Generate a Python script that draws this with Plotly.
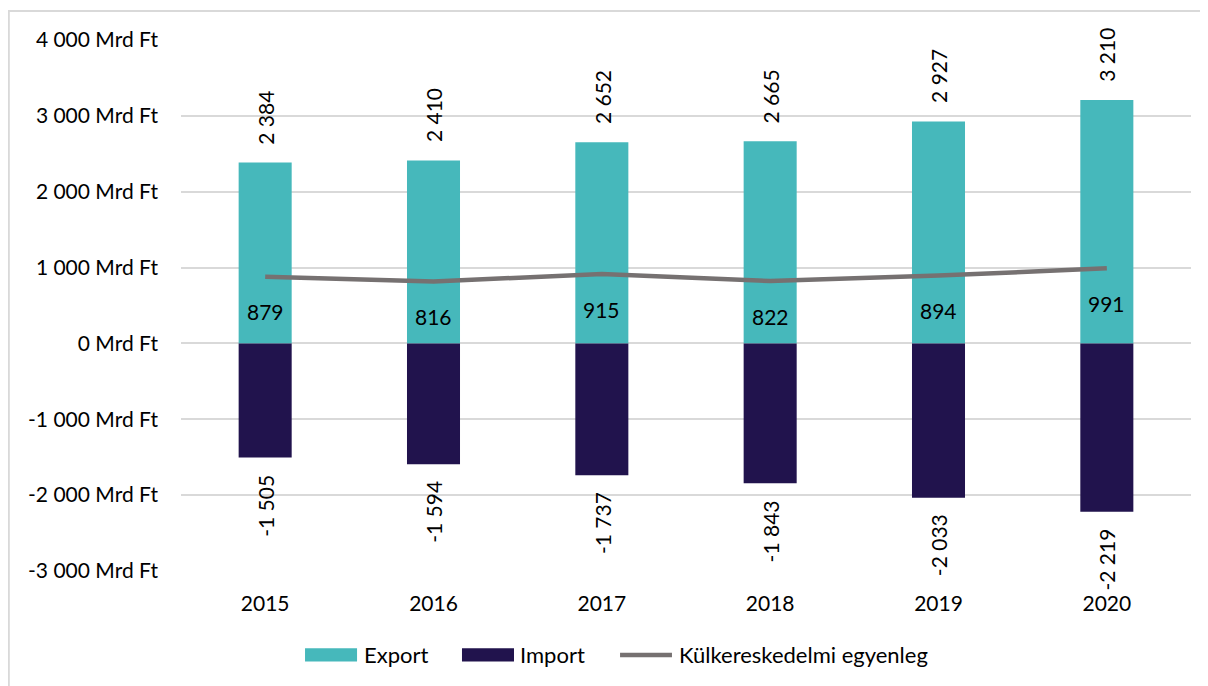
import plotly.graph_objects as go

years = ["2015", "2016", "2017", "2018", "2019", "2020"]
export_vals = [2384, 2410, 2652, 2665, 2927, 3210]
import_vals = [-1505, -1594, -1737, -1843, -2033, -2219]
balance_vals = [879, 816, 915, 822, 894, 991]
series_names = ["Export", "Import", "Külkereskedelmi egyenleg"]
tick_vals = [4000, 3000, 2000, 1000, 0, -1000, -2000, -3000]
tick_text = ["4 000 Mrd Ft", "3 000 Mrd Ft", "2 000 Mrd Ft", "1 000 Mrd Ft",
             "0 Mrd Ft", "-1 000 Mrd Ft", "-2 000 Mrd Ft", "-3 000 Mrd Ft"]

EXPORT_C = "#46B8BB"
IMPORT_C = "#21134D"
LINE_C = "#767171"
FONT = "Lato"
FS = 21


def fmt(v):
    return f"{v:,}".replace(",", " ")


fig = go.Figure()
fig.add_trace(go.Bar(x=years, y=export_vals, name=series_names[0], marker_color=EXPORT_C,
                     width=0.315, marker_line_width=0, showlegend=False))
fig.add_trace(go.Bar(x=years, y=import_vals, name=series_names[1], marker_color=IMPORT_C,
                     width=0.315, marker_line_width=0, showlegend=False))
fig.add_trace(go.Scatter(x=years, y=balance_vals, name=series_names[2],
                         mode="lines", line=dict(color=LINE_C, width=4.5), showlegend=False))

annotations = []
lab_font = dict(family=FONT, size=FS, color="black")
for i, v in enumerate(export_vals):
    annotations.append(dict(x=i, y=v, text=fmt(v), textangle=-90, showarrow=False,
                            yanchor="bottom", xanchor="center", yshift=16, font=lab_font))
for i, v in enumerate(import_vals):
    annotations.append(dict(x=i, y=v, text=fmt(v), textangle=-90, showarrow=False,
                            yanchor="top", xanchor="center", yshift=-15, font=lab_font))
for i, v in enumerate(balance_vals):
    annotations.append(dict(x=i, y=v, text=fmt(v), showarrow=False,
                            yanchor="middle", xanchor="center", yshift=-35, font=lab_font))

# legend (drawn in paper coordinates below the plot)
leg_y = -0.158
leg_h = 0.0125
swatch_x = [(0.1228, 0.1743), (0.2782, 0.3297), (0.4347, 0.4861)]
text_x = [0.1792, 0.3337, 0.4911]
leg_font = dict(family=FONT, size=22, color="black")
shapes = [dict(type="rect", xref="paper", yref="paper", x0=-0.1705, x1=1.03,
               y0=-0.3, y1=1.0546, line=dict(color="#D9D9D9", width=2),
               fillcolor="rgba(0,0,0,0)", layer="below")]
for (x0, x1), col in zip(swatch_x[:2], [EXPORT_C, IMPORT_C]):
    shapes.append(dict(type="rect", xref="paper", yref="paper", x0=x0, x1=x1,
                       y0=leg_y - leg_h, y1=leg_y + leg_h, fillcolor=col, line_width=0))
shapes.append(dict(type="line", xref="paper", yref="paper", x0=swatch_x[2][0],
                   x1=swatch_x[2][1], y0=leg_y, y1=leg_y,
                   line=dict(color=LINE_C, width=4.5)))
for tx, name in zip(text_x, series_names):
    annotations.append(dict(xref="paper", yref="paper", x=tx, y=leg_y, text=name,
                            showarrow=False, xanchor="left", yanchor="middle",
                            font=leg_font))

fig.update_layout(
    width=1200, height=678,
    margin=dict(l=173, r=17, t=32, b=115),
    barmode="relative",
    plot_bgcolor="white", paper_bgcolor="white",
    font=dict(family=FONT, size=FS, color="black"),
    annotations=annotations,
    shapes=shapes,
    showlegend=False,
)
fig.update_xaxes(type="category", range=[-0.5, len(years) - 0.5], showgrid=False,
                 showline=False, ticks="", tickfont=dict(size=FS), ticklabelstandoff=18)
fig.update_yaxes(range=[-3000, 4000], tickvals=tick_vals, ticktext=tick_text,
                 showgrid=True, gridcolor="#D9D9D9", gridwidth=2,
                 zeroline=True, zerolinecolor="#D9D9D9", zerolinewidth=2,
                 showline=False, ticks="", ticklabelstandoff=22, tickfont=dict(size=FS))

fig.write_html("out.html")
